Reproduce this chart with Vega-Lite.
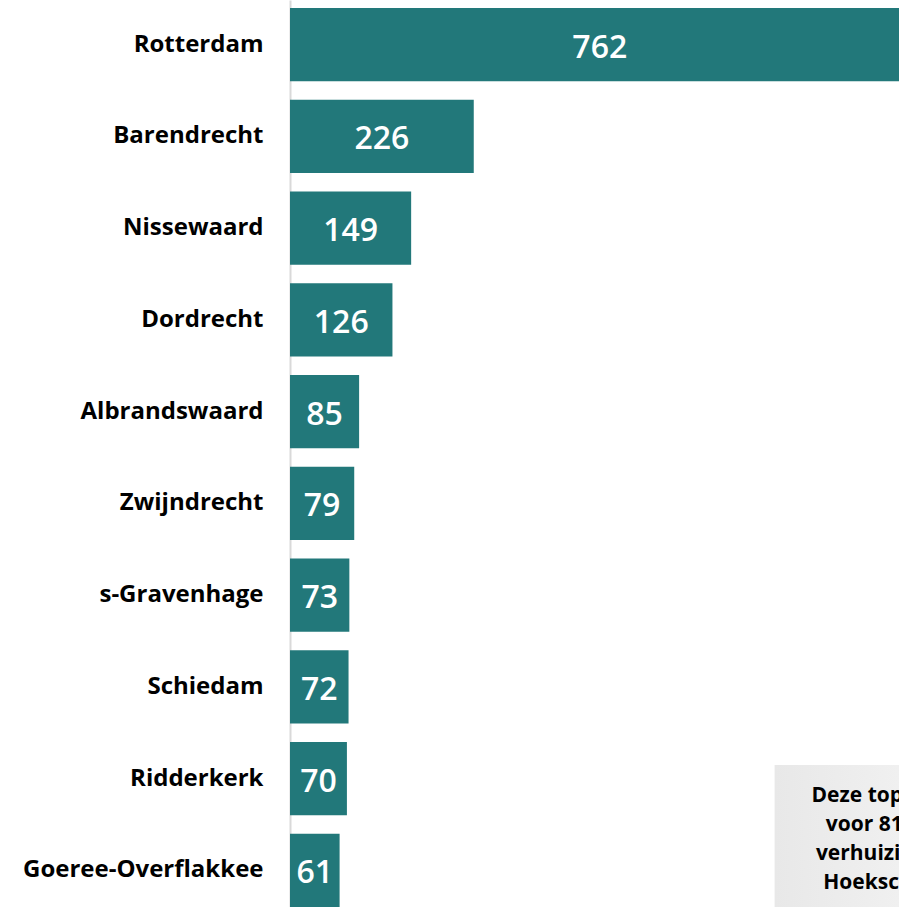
{
  "$schema": "https://vega.github.io/schema/vega-lite/v6.json",
  "width": 609,
  "height": 915,
  "autosize": {"type": "none"},
  "padding": {"left": 290, "top": 0, "right": 0, "bottom": 0},
  "background": "white",
  "config": {"view": {"stroke": null}},
  "layer": [
    {
      "data": {
        "values": [
          {"gemeente": "Rotterdam", "aantal": 762},
          {"gemeente": "Barendrecht", "aantal": 226},
          {"gemeente": "Nissewaard", "aantal": 149},
          {"gemeente": "Dordrecht", "aantal": 126},
          {"gemeente": "Albrandswaard", "aantal": 85},
          {"gemeente": "Zwijndrecht", "aantal": 79},
          {"gemeente": "s-Gravenhage", "aantal": 73},
          {"gemeente": "Schiedam", "aantal": 72},
          {"gemeente": "Ridderkerk", "aantal": 70},
          {"gemeente": "Goeree-Overflakkee", "aantal": 61}
        ]
      },
      "encoding": {
        "y": {
          "field": "gemeente",
          "type": "nominal",
          "sort": null,
          "scale": {"paddingInner": 0.2, "paddingOuter": 0.087},
          "axis": {
            "title": null,
            "ticks": false,
            "grid": false,
            "domainColor": "#d9d9d9",
            "domainWidth": 2,
            "labelFont": "Open Sans",
            "labelFontWeight": "bold",
            "labelFontSize": 24,
            "labelColor": "#000000",
            "labelPadding": 27,
            "labelLimit": 400
          }
        }
      },
      "layer": [
        {
          "mark": {"type": "bar", "color": "#22787a", "clip": true},
          "encoding": {
            "x": {"field": "aantal", "type": "quantitative", "scale": {"domain": [0, 749], "nice": false, "zero": true}, "axis": null}
          }
        },
        {
          "mark": {"type": "text", "color": "white", "font": "Open Sans", "fontWeight": 600, "fontSize": 32, "baseline": "middle", "align": "center", "dy": 3},
          "encoding": {
            "x": {"field": "aantal", "type": "quantitative", "scale": {"domain": [0, 1498], "nice": false, "zero": true}, "axis": null},
            "text": {"field": "aantal", "type": "quantitative"}
          }
        }
      ],
      "resolve": {"scale": {"x": "independent"}, "axis": {"x": "independent"}}
    },
    {
      "data": {"values": [{"tekst": ["Deze top 10 is goed", "voor 81% van de", "verhuizingen naar", "Hoeksche Waard"]}]},
      "layer": [
        {
          "mark": {
            "type": "rect",
            "fill": {"gradient": "linear", "x1": 0, "y1": 0, "x2": 1, "y2": 0, "stops": [{"offset": 0, "color": "#e8e8e8"}, {"offset": 1, "color": "#fbfbfb"}]}
          },
          "encoding": {
            "x": {"datum": 596, "type": "quantitative", "scale": {"domain": [0, 749], "nice": false}, "axis": null},
            "x2": {"datum": 960},
            "y": {"datum": 8.36, "type": "quantitative", "scale": {"domain": [0, 10], "reverse": true, "nice": false, "zero": false}, "axis": null},
            "y2": {"datum": 10.3}
          }
        },
        {
          "mark": {"type": "text", "color": "#000000", "font": "Open Sans", "fontWeight": "bold", "fontSize": 21, "lineHeight": 29, "align": "center", "baseline": "middle"},
          "encoding": {
            "x": {"datum": 764, "type": "quantitative", "scale": {"domain": [0, 749], "nice": false}, "axis": null},
            "y": {"datum": 8.7, "type": "quantitative", "scale": {"domain": [0, 10], "reverse": true, "nice": false, "zero": false}, "axis": null},
            "text": {"field": "tekst"}
          }
        }
      ]
    }
  ],
  "resolve": {"scale": {"y": "independent", "x": "independent"}, "axis": {"y": "independent", "x": "independent"}}
}
